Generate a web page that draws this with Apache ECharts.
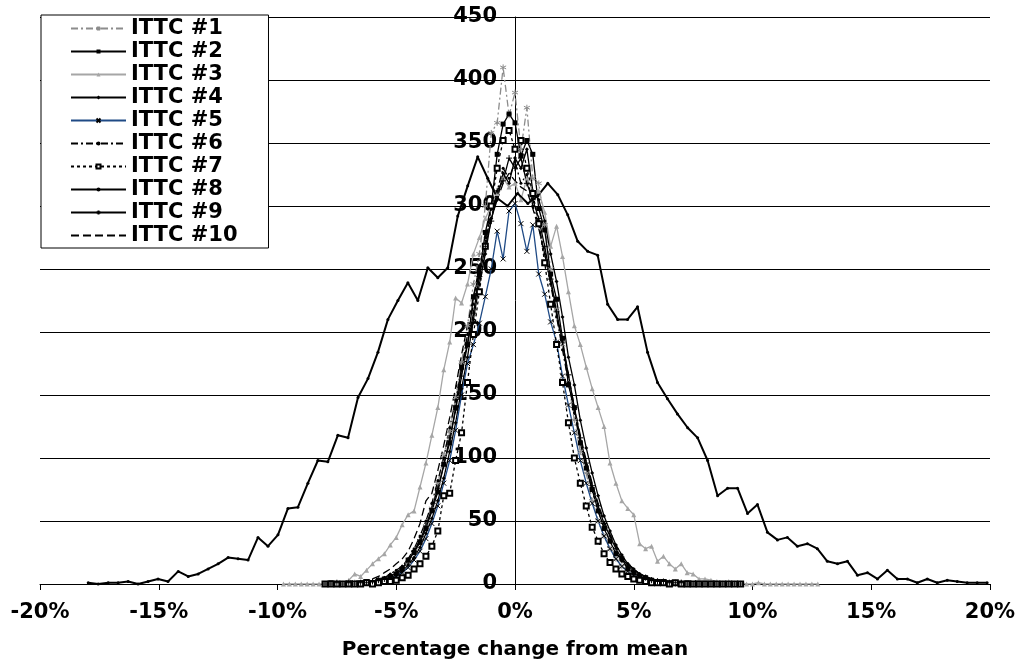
<!DOCTYPE html>
<html><head><meta charset="utf-8">
<script src="https://cdn.jsdelivr.net/npm/echarts@6/dist/echarts.min.js"></script>
<style>html,body{margin:0;padding:0;background:#fff}#c{width:1018px;height:663px}</style>
</head><body><div id="c"></div>
<script>
const seriesNames = ['ITTC #1','ITTC #2','ITTC #3','ITTC #4','ITTC #5','ITTC #6','ITTC #7','ITTC #8','ITTC #9','ITTC #10'];
const xTickStep = 5;
const yTickStep = 50;

// common x grid (percent) for the narrow series
const xCommon = [-8,-7.75,-7.5,-7.25,-7,-6.75,-6.5,-6.25,-6,-5.75,-5.5,-5.25,-5,-4.75,-4.5,-4.25,
 -4,-3.75,-3.5,-3.25,-3,-2.75,-2.5,-2.25,-2,-1.75,-1.5,-1.25,-1,-0.75,-0.5,-0.25,
 0,0.25,0.5,0.75,1,1.25,1.5,1.75,2,2.25,2.5,2.75,3,3.25,3.5,3.75,
 4,4.25,4.5,4.75,5,5.25,5.5,5.75,6,6.25,6.5,6.75,7,7.25,7.5,7.75,8,8.25,8.5,8.75,9,9.25,9.5];

// x grid for ITTC #3
const x3 = [-9.75,-9.5,-9.25,
 -9,-8.75,-8.5,-8.25,-8,-7.75,-7.5,-7.25,-7,-6.75,-6.5,-6.25,-6,-5.75,-5.5,-5.25,
 -5,-4.75,-4.5,-4.25,-4,-3.75,-3.5,-3.25,-3,-2.75,-2.5,-2.25,-2,-1.75,-1.5,-1.25,
 -1,-0.75,-0.5,-0.25,0,0.25,0.5,0.75,1,1.25,1.5,1.75,2,2.25,2.5,2.75,
 3,3.25,3.5,3.75,4,4.25,4.5,4.75,5,5.25,5.5,5.75,6,6.25,6.5,6.75,
 7,7.25,7.5,7.75,8,8.25,8.5,8.75,9,9.25,9.5,9.75,10,10.25,10.5,10.75,
 11,11.25,11.5,11.75,12,12.25,12.5,12.75];

// x grid for ITTC #8 (wide distribution)
const xWide = [-17.97,-17.55,-17.13,-16.71,-16.29,-15.87,-15.45,-15.03,-14.61,-14.18,
 -13.76,-13.34,-12.92,-12.50,-12.08,-11.66,-11.24,-10.82,-10.40,-9.98,
 -9.56,-9.14,-8.72,-8.30,-7.88,-7.46,-7.03,-6.61,-6.19,-5.77,
 -5.35,-4.93,-4.51,-4.09,-3.67,-3.25,-2.83,-2.41,-1.99,-1.57,
 -1.15,-0.73,-0.31,0.11,0.54,0.96,1.38,1.80,2.22,2.64,
 3.06,3.48,3.90,4.32,4.74,5.16,5.58,6.00,6.42,6.84,
 7.27,7.69,8.11,8.53,8.95,9.37,9.79,10.21,10.63,11.05,
 11.47,11.89,12.31,12.73,13.15,13.58,14.00,14.42,14.84,15.26,
 15.68,16.10,16.52,16.94,17.36,17.78,18.20,18.62,19.04,19.46,19.88];

const y1 = [0,0,0,0, 0,1,0,1, 2,2,4,5, 8,12,17,25, 34,46,60,80, 102,121,148,176,
 205,238,262,300, 358,366,410,372, 390,345,378,322, 318,285,250,218, 190,160,130,105,
 88,66,50,38, 28,20,14,10, 7,5,3,2, 2,1,1,0, 1,0,0,0, 0,0,0,0, 0,0,0];
const y2 = [0,1,0,0, 1,0,1,2, 1,3,4,6, 8,12,19,25, 33,44,58,73, 95,112,140,172,
 190,228,246,279, 300,341,365,373, 366,340,352,341, 298,281,246,226, 195,158,140,112,
 92,75,58,44, 34,24,20,12, 9,6,5,3, 2,2,1,1, 0,1,0,0, 0,0,0,0, 0,0,0];
const y3 = [0,0,0, 0,0,0,0, 0,0,1,0, 3,8,6,11, 16,20,24,31, 37,47,55,58, 77,96,118,140,
 170,192,227,223, 238,262,275,290, 300,310,322,315, 318,305,322,312, 312,295,268,284,
 260,232,205,190, 172,155,140,125, 96,80,66,60, 55,32,28,30, 18,22,16,12,
 16,9,8,4, 4,3,2,1, 2,1,1,0, 0,1,0,0, 0,0,0,0, 0,0,0,0];
const y4 = [0,0,0,1, 0,0,1,1, 2,2,3,5, 7,10,15,21, 29,40,52,66, 84,105,128,155,
 180,210,238,262, 290,305,326,318, 338,330,345,312, 305,288,262,240, 212,180,158,130,
 108,88,70,54, 42,31,23,16, 12,8,6,4, 3,2,1,1, 1,0,0,1, 0,0,0,0, 0,0,0];
const y5 = [0,0,0,0, 0,1,0,1, 1,2,3,4, 6,9,13,19, 26,36,48,62, 80,98,122,150,
 175,190,207,228, 250,280,258,296, 302,286,264,285, 246,230,208,192, 165,142,120,98,
 80,64,50,38, 28,20,14,10, 7,5,3,2, 2,1,1,0, 0,0,1,0, 0,0,0,0, 0,0,0];
const y6 = [1,0,0,1, 0,1,1,2, 2,3,5,8, 11,14,20,28, 38,50,64,82, 100,124,146,170,
 198,222,250,275, 298,312,330,322, 335,318,325,300, 285,262,238,212, 186,160,136,112,
 92,74,58,45, 34,25,18,13, 9,6,4,3, 2,2,1,1, 0,1,0,0, 0,0,0,0, 0,0,0];
const y7 = [0,0,0,0, 0,0,0,1, 0,1,2,2, 3,5,7,12, 16,22,30,42, 70,72,98,120,
 160,198,232,268, 300,330,352,360, 345,352,330,310, 286,255,222,190, 160,128,100,80,
 62,45,34,24, 17,12,8,6, 4,3,2,1, 1,1,0,1, 0,0,0,0, 0,0,0,0, 0,0,0];
const y8 = [1,0,1,1,2,0,2,4,2,10, 6,8,12,16,21,20,19,37,30,39,
 60,61,80,98,97,118,116,148,163,184, 210,225,239,225,251,243,251,292,316,339,
 322,306,300,310,302,308,318,309,293,272, 264,261,222,210,210,220,184,160,147,135,
 124,116,98,70,76,76,56,63,41,35, 37,30,32,28,18,16,18,7,9,4,
 11,4,4,1,4,1,3,2,1,1,1];
const y9 = [0,0,1,0, 1,0,1,1, 2,3,4,6, 9,13,18,26, 35,46,60,76, 94,116,138,165,
 190,215,244,268, 288,312,320,338, 330,338,318,305, 290,268,242,216, 192,166,140,116,
 96,78,62,48, 38,28,20,15, 10,7,5,3, 2,2,1,1, 1,0,0,0, 0,0,0,0, 0,0,0];
const y10 = [0,0,1,1, 1,2,2,3, 4,6,9,12, 16,20,26,36, 48,66,72,90, 110,132,156,182,
 205,228,252,272, 292,305,318,326, 320,315,312,298, 282,262,240,214, 190,166,140,118,
 98,80,64,50, 39,30,22,16, 12,8,6,4, 3,2,2,1, 1,1,0,0, 0,0,0,0, 0,0,0];

const xs = [xCommon, xCommon, x3, xCommon, xCommon, xCommon, xCommon, xWide, xCommon, xCommon];
const ys = [y1, y2, y3, y4, y5, y6, y7, y8, y9, y10];

const SYM_AST = 'path://M5,0V10M0.7,2.5L9.3,7.5M0.7,7.5L9.3,2.5';
const SYM_X = 'path://M0,0L10,10M0,10L10,0';
const SYM_PLUS = 'path://M5,0V10M0,5H10';

const styles = [
  {color:'#8c8c8c', type:[7,3,2,3], width:1.3, symbol:SYM_AST, size:6, mk:'#8c8c8c', stroke:1},
  {color:'#000', type:'solid', width:1.3, symbol:'rect', size:5, mk:'#000', stroke:0},
  {color:'#a6a6a6', type:'solid', width:1.3, symbol:'triangle', size:5, mk:'#a6a6a6', stroke:0},
  {color:'#000', type:'solid', width:1.3, symbol:'diamond', size:4, mk:'#000', stroke:0},
  {color:'#1f4a85', type:'solid', width:1.3, symbol:SYM_X, size:5, mk:'#000', stroke:1},
  {color:'#000', type:[7,3,2,3], width:1.3, symbol:'circle', size:3, mk:'#000', stroke:0},
  {color:'#000', type:[3,3], width:1.3, symbol:'emptyRect', size:5, mk:'#000', stroke:1},
  {color:'#000', type:'solid', width:2, symbol:'circle', size:3, mk:'#000', stroke:0},
  {color:'#000', type:'solid', width:1.3, symbol:SYM_PLUS, size:6, mk:'#000', stroke:1},
  {color:'#000', type:[8,4], width:1.3, symbol:'circle', size:0, mk:'rgba(0,0,0,0)', stroke:0}
];

const FONT = 'DejaVu Sans';
const series = seriesNames.map((name, i) => {
  const s = styles[i];
  return {
    name: name,
    type: 'line',
    data: xs[i].map((x, j) => [x, ys[i][j]]),
    symbol: s.symbol,
    symbolSize: s.size,
    showSymbol: s.size > 0,
    showAllSymbol: true,
    lineStyle: {color: s.color, type: s.type, width: s.width},
    itemStyle: {color: s.mk, borderColor: s.mk, borderWidth: s.stroke},
    emphasis: {disabled: true},
    animation: false
  };
});

const chart = echarts.init(document.getElementById('c'), null, {renderer: 'canvas'});
chart.setOption({
  backgroundColor: '#fff',
  animation: false,
  grid: {left: 40, right: 28, top: 17, bottom: 79, containLabel: false, outerBoundsMode: 'none'},
  legend: {
    orient: 'vertical', left: 41, top: 15,
    itemWidth: 55, itemHeight: 5, itemGap: 2,
    padding: [3, 31, 2, 29],
    backgroundColor: '#fff', borderColor: '#000', borderWidth: 1,
    textStyle: {fontSize: 21, fontWeight: 'bold', color: '#000', fontFamily: FONT},
    data: seriesNames
  },
  xAxis: {
    type: 'value', min: -20, max: 20, interval: xTickStep,
    axisLine: {show: true, onZero: false, lineStyle: {color: '#000', width: 1}},
    axisTick: {show: true, length: 6, lineStyle: {color: '#000'}},
    axisLabel: {formatter: v => v + '%', color: '#000', fontSize: 21, fontWeight: 'bold', fontFamily: FONT, margin: 18},
    splitLine: {show: false},
    name: 'Percentage change from mean', nameLocation: 'middle', nameGap: 56,
    nameTextStyle: {fontSize: 20, fontWeight: 'bold', color: '#000', fontFamily: FONT}
  },
  yAxis: {
    type: 'value', min: 0, max: 450, interval: yTickStep,
    position: 'left', offset: -475,
    axisLine: {show: true, onZero: true, onZeroAxisIndex: 0, lineStyle: {color: '#000', width: 1}},
    axisTick: {show: true, length: 6, lineStyle: {color: '#000'}},
    axisLabel: {color: '#000', fontSize: 21, fontWeight: 'bold', fontFamily: FONT, margin: 18},
    splitLine: {show: true, lineStyle: {color: '#000', width: 1}}
  },
  series: series
});
</script></body></html>
